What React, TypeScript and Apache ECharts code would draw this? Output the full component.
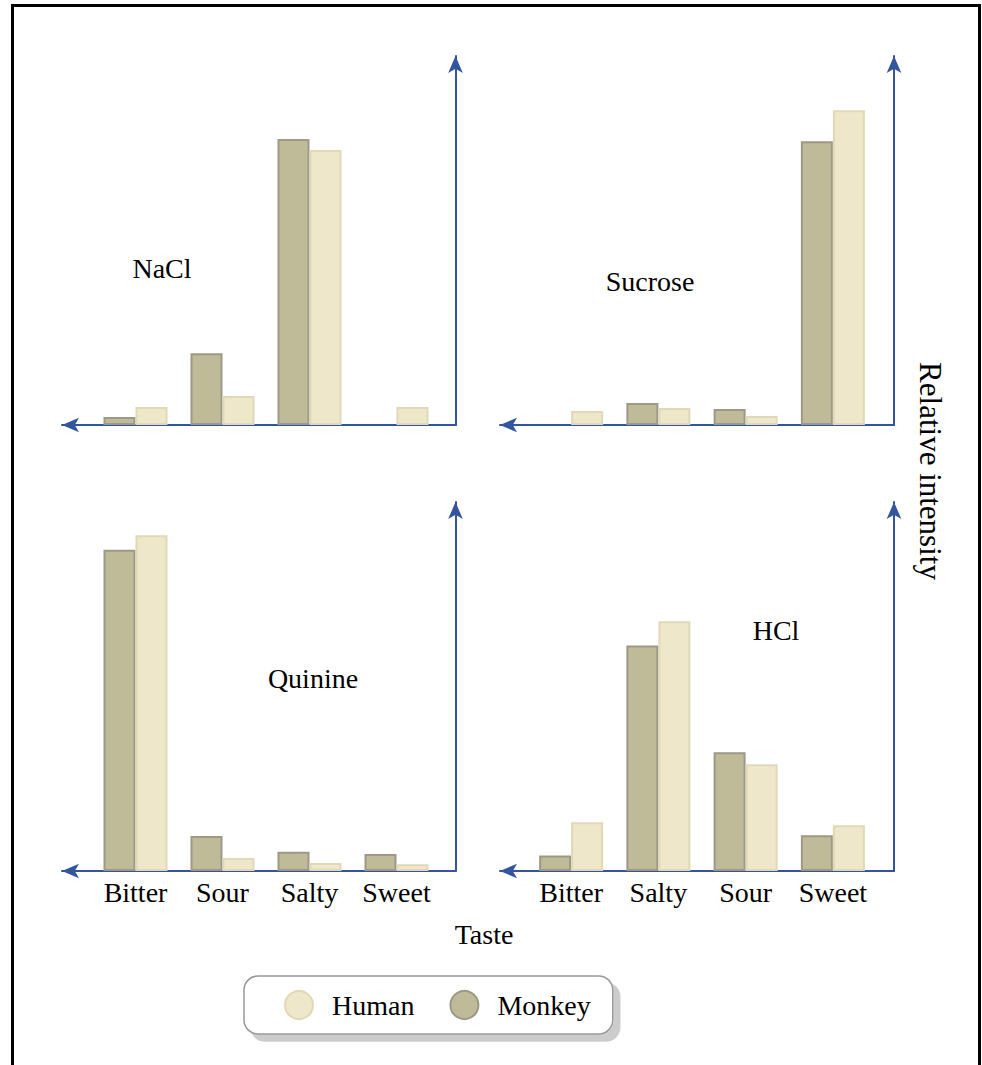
import React, { useEffect, useRef } from "react";
import * as echarts from "echarts";

// Category orders per panel
const catsLeft = ["Bitter", "Sour", "Salty", "Sweet"];
const catsRight = ["Bitter", "Salty", "Sour", "Sweet"];

// Relative intensity values (0-100 scale); null = no bar
const naclMonkey = [2.2, 19.9, 79.2, null];
const naclHuman = [5.0, 8.0, 76.2, 5.0];
const sucroseMonkey = [null, 6.1, 4.4, 78.6];
const sucroseHuman = [3.9, 4.7, 2.5, 87.2];
const quinineMonkey = [89.0, 9.7, 5.3, 4.7];
const quinineHuman = [93.0, 3.6, 2.2, 1.9];
const hclMonkey = [4.3, 62.5, 32.9, 9.9];
const hclHuman = [13.5, 69.2, 29.6, 12.7];

const panelTitles = ["NaCl", "Sucrose", "Quinine", "HCl"];
const legendNames = ["Human", "Monkey"];

const FONT = "Liberation Serif";
const AXIS_BLUE = "#3355a0";
const MONKEY_FILL = "#bfba98";
const MONKEY_BORDER = "#9d9986";
const HUMAN_FILL = "#efe7ca";
const HUMAN_BORDER = "#e0d9b8";

export default function App() {
  const ref = useRef<HTMLDivElement>(null);

  useEffect(() => {
    if (!ref.current) return;
    const chart = echarts.init(ref.current, undefined, { renderer: "svg" });

    const barGrids = [
      { left: 92, top: 64, width: 348, height: 361 },
      { left: 527.5, top: 64, width: 349, height: 361 },
      { left: 92, top: 510, width: 348, height: 361 },
      { left: 527.5, top: 510, width: 349, height: 361 },
    ];
    const axisGrids = [
      { left: 62, top: 56, width: 393.5, height: 369 },
      { left: 500, top: 56, width: 394, height: 369 },
      { left: 62, top: 502, width: 393.5, height: 369 },
      { left: 500, top: 502, width: 394, height: 369 },
    ];
    const grids = [...barGrids, ...axisGrids].map((g) => ({ ...g, containLabel: false }));

    const catSets = [catsLeft, catsRight, catsLeft, catsRight];
    const monkeySets = [naclMonkey, sucroseMonkey, quinineMonkey, hclMonkey];
    const humanSets = [naclHuman, sucroseHuman, quinineHuman, hclHuman];

    const xAxes: any[] = [];
    const yAxes: any[] = [];
    for (let i = 0; i < 4; i++) {
      xAxes.push({
        type: "category",
        gridIndex: i,
        data: catSets[i],
        axisLine: { show: false },
        axisTick: { show: false },
        axisLabel: {
          show: i >= 2,
          interval: 0,
          color: "#000",
          fontSize: 28,
          fontFamily: FONT,
          margin: 7,
        },
        splitLine: { show: false },
      });
      yAxes.push({
        type: "value",
        gridIndex: i,
        min: 0,
        max: 100,
        show: false,
      });
    }
    for (let i = 0; i < 4; i++) {
      xAxes.push({
        type: "value",
        gridIndex: 4 + i,
        min: 0,
        max: 1,
        position: "bottom",
        axisLine: {
          show: true,
          onZero: false,
          symbol: ["arrow", "none"],
          symbolSize: [11, 17],
          lineStyle: { color: AXIS_BLUE, width: 2 },
        },
        axisTick: { show: false },
        axisLabel: { show: false },
        splitLine: { show: false },
      });
      yAxes.push({
        type: "value",
        gridIndex: 4 + i,
        min: 0,
        max: 1,
        position: "right",
        axisLine: {
          show: true,
          onZero: false,
          symbol: ["none", "arrow"],
          symbolSize: [11, 17],
          lineStyle: { color: AXIS_BLUE, width: 2 },
        },
        axisTick: { show: false },
        axisLabel: { show: false },
        splitLine: { show: false },
      });
    }

    const series: any[] = [];
    for (let i = 0; i < 4; i++) {
      series.push({
        type: "bar",
        name: "Monkey",
        xAxisIndex: i,
        yAxisIndex: i,
        data: monkeySets[i],
        barWidth: 32,
        barGap: "0%",
        itemStyle: { color: MONKEY_FILL, borderColor: MONKEY_BORDER, borderWidth: 2 },
      });
      series.push({
        type: "bar",
        name: "Human",
        xAxisIndex: i,
        yAxisIndex: i,
        data: humanSets[i],
        barWidth: 32,
        barGap: "0%",
        itemStyle: { color: HUMAN_FILL, borderColor: HUMAN_BORDER, borderWidth: 2 },
      });
    }

    const titlePos = [
      [162, 268],
      [650, 281],
      [313, 678],
      [776, 630],
    ];
    const textStyleBase = { fill: "#000", fontSize: 28, fontFamily: FONT };
    const graphic: any[] = [
      {
        type: "rect",
        shape: { x: 12.5, y: 5.5, width: 967, height: 1200 },
        style: { fill: "none", stroke: "#000", lineWidth: 3 },
        silent: true,
      },
      ...panelTitles.map((t, i) => ({
        type: "text",
        x: titlePos[i][0],
        y: titlePos[i][1],
        style: { ...textStyleBase, text: t, align: "center", verticalAlign: "middle" },
      })),
      {
        type: "text",
        x: 484,
        y: 934,
        style: { ...textStyleBase, text: "Taste", align: "center", verticalAlign: "middle" },
      },
      {
        type: "text",
        x: 930,
        y: 471,
        rotation: -Math.PI / 2,
        style: {
          ...textStyleBase,
          fontSize: 31,
          text: "Relative intensity",
          align: "center",
          verticalAlign: "middle",
        },
      },
    ];

    chart.setOption({
      animation: false,
      backgroundColor: "#fff",
      grid: grids,
      xAxis: xAxes,
      yAxis: yAxes,
      series,
      legend: {
        data: legendNames,
        left: 244,
        top: 976,
        orient: "horizontal",
        icon: "circle",
        itemWidth: 28,
        itemHeight: 28,
        itemGap: 35,
        padding: [14, 22, 14, 40],
        backgroundColor: "#fff",
        borderColor: "#999",
        borderWidth: 1.5,
        borderRadius: 14,
        shadowColor: "rgba(0,0,0,0.2)",
        shadowBlur: 0,
        shadowOffsetX: 7,
        shadowOffsetY: 7,
        textStyle: { color: "#000", fontSize: 28, fontFamily: FONT, padding: [0, 0, 0, 14] },
      },
      graphic,
    });

    return () => chart.dispose();
  }, []);

  return (
    <div
      ref={ref}
      style={{ position: "absolute", left: 0, top: 0, width: 982, height: 1065 }}
    />
  );
}
